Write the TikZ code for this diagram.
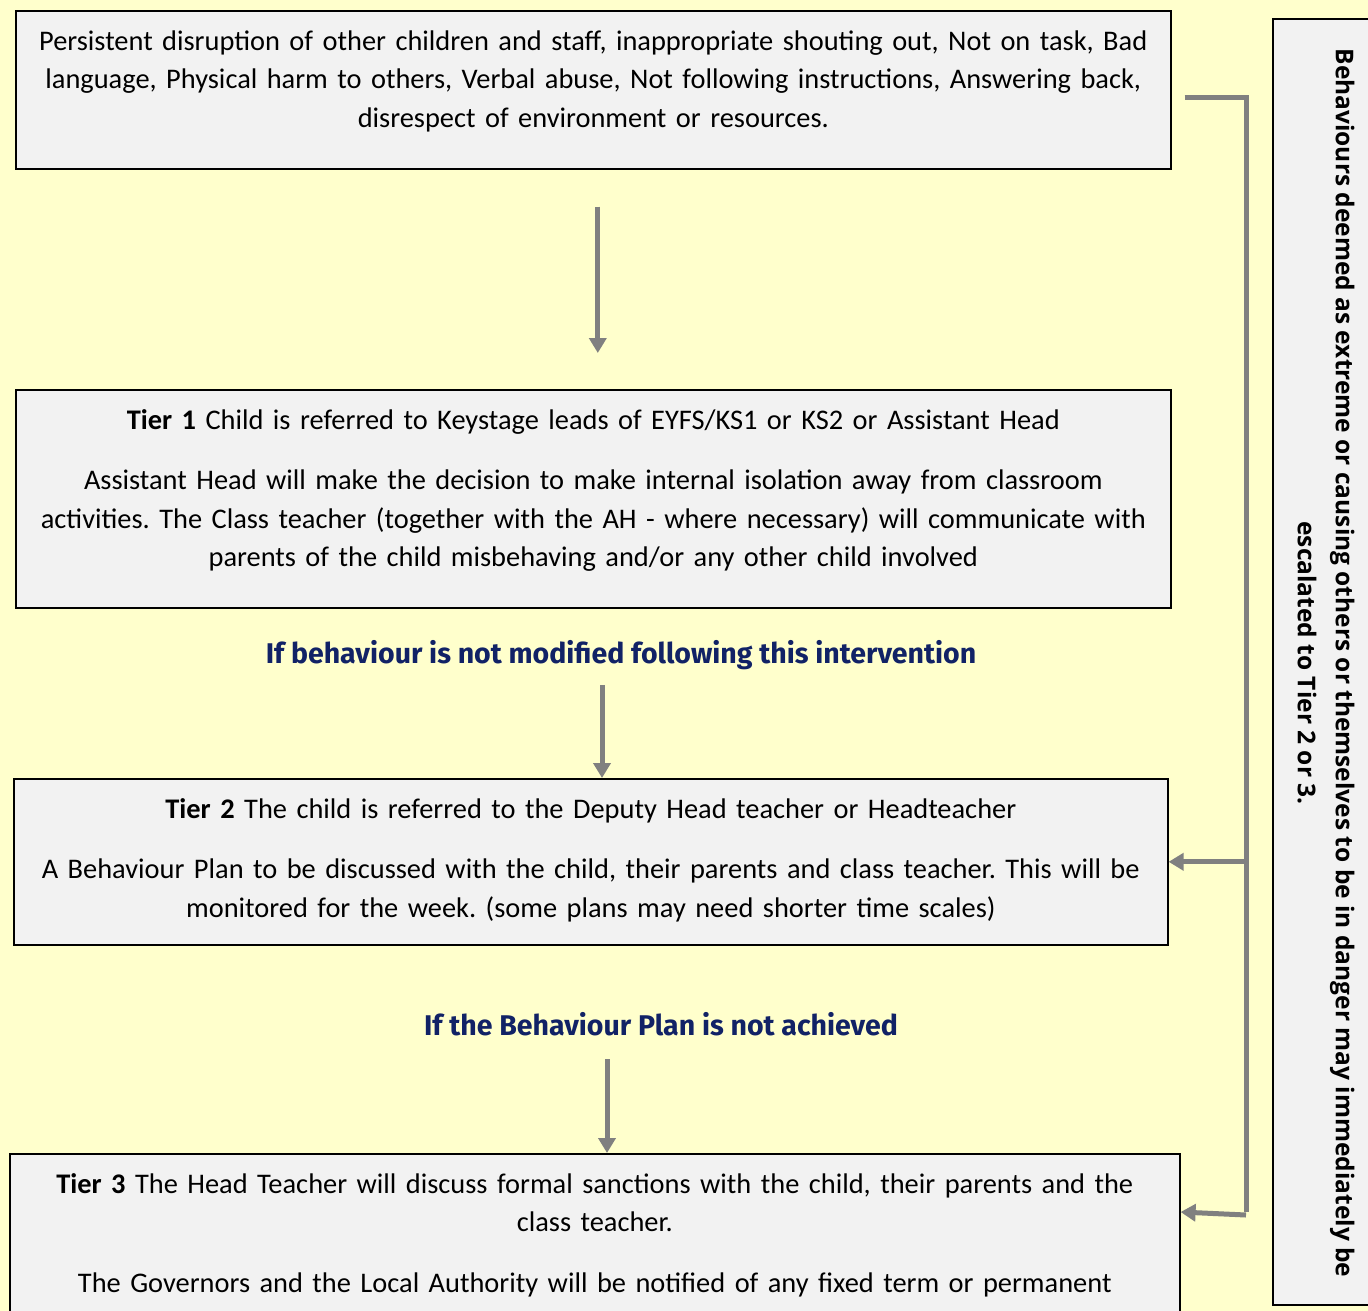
\documentclass[tikz,border=0pt]{standalone}
\usepackage{fontspec}
\setmainfont{Carlito}
\newfontfamily\notefont{Fira Sans}
\newfontfamily\sidefont{Open Sans}
\usetikzlibrary{arrows.meta,positioning}
\definecolor{paper}{HTML}{FFFFCC}
\definecolor{boxgrey}{HTML}{F2F2F2}
\definecolor{linkgrey}{HTML}{808080}
\definecolor{notenavy}{HTML}{112266}
\frenchspacing

\begin{document}
\begin{tikzpicture}[x=1pt,y=-1pt,
  box/.style={draw=black,line width=1.6pt,fill=boxgrey,anchor=north west,inner sep=0pt},
  boxtext/.style={anchor=north,inner sep=0pt,text width=1160pt,align=center,font=\fontsize{28.4}{38.5}\selectfont},
  note/.style={text=notenavy,font=\notefont\bfseries\fontsize{28.5}{30}\selectfont,inner sep=0pt},
  flow/.style={draw=linkgrey,line width=5pt,-{Triangle[width=17pt,length=15pt]}},
  rail/.style={draw=linkgrey,line width=5pt}]
% page and background
\useasboundingbox (0,0) rectangle (1368,1311);
\clip (0,0) rectangle (1368,1311);
\fill[paper] (0,0) rectangle (1368,1311);

% behaviours
\node[box,minimum width=1155pt,minimum height=158pt] (b0) at (15,10) {};
\node[boxtext] (b0t) at ([yshift=-13pt]b0.north) {\strut Persistent disruption of other children and staff, inappropriate shouting out, Not on task, Bad\\ language, Physical harm to others, Verbal abuse, Not following instructions, Answering back,\\ disrespect of environment or resources.};

% tier 1
\node[box,minimum width=1155pt,minimum height=218pt] (b1) at (15,389) {};
\node[boxtext] (b1t) at ([yshift=-13pt]b1.north) {\strut\textbf{Tier 1} Child is referred to Keystage leads of EYFS/KS1 or KS2 or Assistant Head\\[22pt] Assistant Head will make the decision to make internal isolation away from classroom\\ activities. The Class teacher (together with the AH - where necessary) will communicate with\\ parents of the child misbehaving and/or any other child involved};

\node[note] (l1) at (621,655) {If behaviour is not modified following this intervention};

% tier 2
\node[box,minimum width=1154pt,minimum height=166pt] (b2) at (13,778) {};
\node[boxtext] (b2t) at ([yshift=-13pt]b2.north) {\strut\textbf{Tier 2} The child is referred to the Deputy Head teacher or Headteacher\\[22pt] A Behaviour Plan to be discussed with the child, their parents and class teacher. This will be\\ monitored for the week. (some plans may need shorter time scales)};

\node[note] (l2) at (661,1024) {If the Behaviour Plan is not achieved};

% tier 3
\node[box,minimum width=1170pt,minimum height=190pt] (b3) at (9,1153) {};
\node[boxtext] (b3t) at ([yshift=-13pt]b3.north) {\strut\textbf{Tier 3} The Head Teacher will discuss formal sanctions with the child, their parents and the\\ class teacher.\\[22pt] The Governors and the Local Authority will be notified of any fixed term or permanent};

% side note
\node[box,minimum width=140pt,minimum height=1286pt] (side) at (1272,18) {};
\node[rotate=-90,align=center,inner sep=0pt,font=\sidefont\bfseries\fontsize{24.5}{38}\selectfont] (sidet) at (1326,663) {Behaviours deemed as extreme or causing others or themselves to be in danger may immediately be\\ escalated to Tier 2 or 3.};

% arrows down
\draw[flow] ([xshift=4.5pt,yshift=-37pt]b0.south) -- ([xshift=4.5pt,yshift=36pt]b1.north);
\draw[flow] ([xshift=-19pt,yshift=-15pt]l1.south) -- ([xshift=-19pt]l1.south |- b2.north);
\draw[flow] ([xshift=-54pt,yshift=-23pt]l2.south) -- ([xshift=-54pt]l2.south |- b3.north);

% escalation rail
\coordinate (railtop) at (1246,98);
\coordinate (railbot) at (1246,1215);
\draw[rail] ([xshift=13pt]b0.east |- railtop) -- (railtop) -- ([yshift=3pt]railbot);
\draw[flow] (railtop |- b2.east) -- (b2.east);
\draw[flow] (railbot) -- ([yshift=-59pt]b3.north east);
\end{tikzpicture}
\end{document}
